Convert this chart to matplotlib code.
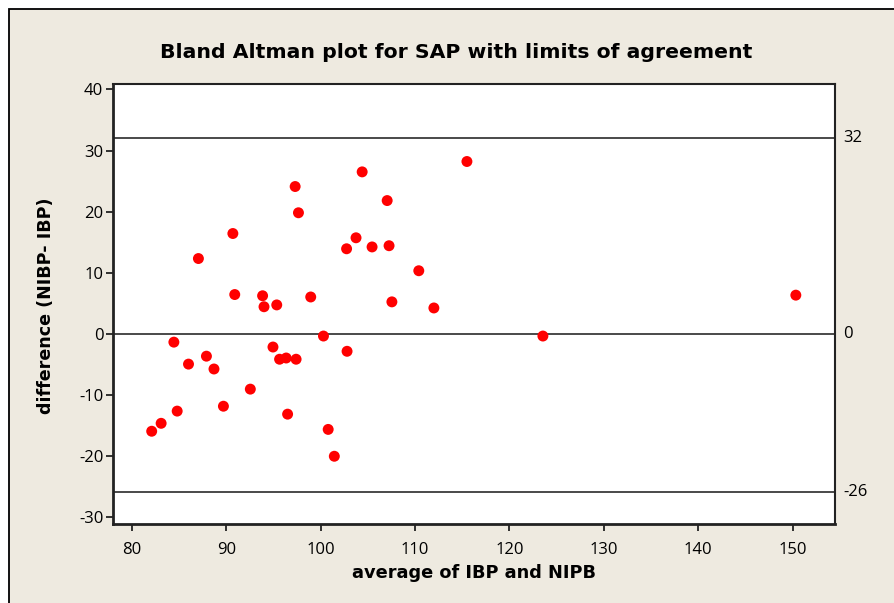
import matplotlib
matplotlib.use("Agg")
import matplotlib.pyplot as plt
from matplotlib.patches import Rectangle

# Data
avg = [82.1, 83.1, 84.45, 84.8, 86.0, 87.05, 87.9, 88.7, 89.7, 90.7, 90.9, 92.55,
       93.85, 94.0, 94.95, 95.35, 95.65, 96.35, 96.5, 97.3, 97.4, 97.65, 98.95,
       100.3, 100.8, 101.45, 102.75, 102.8, 103.75, 104.4, 105.45, 107.05, 107.25,
       107.55, 110.4, 112.0, 115.5, 123.55, 150.35]
diff = [-16.0, -14.7, -1.4, -12.7, -5.0, 12.3, -3.7, -5.8, -11.9, 16.4, 6.4, -9.1,
        6.2, 4.4, -2.2, 4.7, -4.2, -4.0, -13.2, 24.1, -4.2, 19.8, 6.0,
        -0.4, -15.7, -20.1, 13.9, -2.9, 15.7, 26.5, 14.2, 21.8, 14.4,
        5.2, 10.3, 4.2, 28.2, -0.4, 6.3]
ref_levels = [32, 0, -26]
ref_labels = ["32", "0", "-26"]
x_ticks = [80, 90, 100, 110, 120, 130, 140, 150]
y_ticks = [-30, -20, -10, 0, 10, 20, 30, 40]

W, H = 895, 603
fig = plt.figure(figsize=(W / 100, H / 100), dpi=100)
fig.patch.set_facecolor("white")
bg = "#EEEAE0"

# background panel drawn in an axes spanning the whole figure
bgax = fig.add_axes([0, 0, 1, 1], zorder=0)
bgax.set_axis_off()
bgax.set_xlim(0, 1)
bgax.set_ylim(0, 1)
bgax.add_patch(Rectangle((9 / W, -0.1), 1.2, (H - 9) / H + 0.1,
                         facecolor=bg, edgecolor="black", linewidth=1.3,
                         clip_on=False))

ax = fig.add_axes([113 / W, 1 - 524 / H, (835 - 113) / W, (524 - 84) / H], zorder=2)
ax.set_facecolor("white")
ax.set_xlim(78.0, 154.5)
ax.set_ylim(-31.2, 40.9)

for lv in ref_levels:
    ax.axhline(lv, color="#3a3a3a", linewidth=1.3, zorder=1)

ax.scatter(avg, diff, s=62, color="#FF0000", edgecolors="none", zorder=3)

ax.set_xticks(x_ticks)
ax.set_yticks(y_ticks)
tick_font = {"family": "Open Sans", "size": 12}
ax.set_xticklabels([str(t) for t in x_ticks], fontdict=tick_font)
ax.set_yticklabels([str(t) for t in y_ticks], fontdict=tick_font)
ax.tick_params(axis="both", direction="out", length=5, width=1.3, color="#222222",
               pad=2)
ax.tick_params(axis="x", pad=8)

for side in ["left", "bottom"]:
    ax.spines[side].set_linewidth(2.0)
    ax.spines[side].set_color("#222222")
for side in ["top", "right"]:
    ax.spines[side].set_linewidth(1.5)
    ax.spines[side].set_color("#222222")

for lv, lab in zip(ref_levels, ref_labels):
    ax.annotate(lab, xy=(1, lv), xycoords=("axes fraction", "data"),
                xytext=(8, 0), textcoords="offset pixels",
                ha="left", va="center", fontfamily="Open Sans", fontsize=12)

fig.text(456 / W, 1 - 52 / H, "Bland Altman plot for SAP with limits of agreement",
         ha="center", va="center", fontfamily="DejaVu Sans", fontweight="bold",
         fontsize=14.7, zorder=3)
fig.text(474 / W, 1 - 573 / H, "average of IBP and NIPB", ha="center", va="center",
         fontfamily="DejaVu Sans", fontweight="bold", fontsize=12.8, zorder=3)
fig.text(46 / W, 1 - 306 / H, "difference (NIBP- IBP)", ha="center", va="center",
         rotation=90, fontfamily="DejaVu Sans", fontweight="bold", fontsize=12.6,
         zorder=3)

fig.savefig("out.png", dpi=100, facecolor=fig.get_facecolor())
